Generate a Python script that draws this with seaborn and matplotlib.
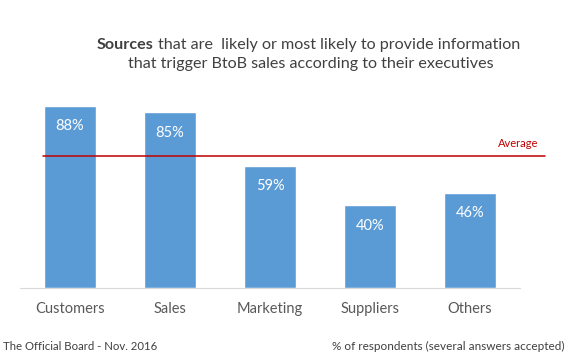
import matplotlib.pyplot as plt
import seaborn as sns
import numpy as np
import pandas as pd

categories = ["Customers", "Sales", "Marketing", "Suppliers", "Others"]
values = [88, 85, 59, 40, 46]
average = np.mean(values)

sns.set_style("white")
plt.rcParams['font.family'] = ['Lato', 'DejaVu Sans']

df = pd.DataFrame({'source': categories, 'pct': values})

W, H = 570, 359
fig = plt.figure(figsize=(W / 100, H / 100), dpi=100)
ax = fig.add_axes([20 / W, 1 - 288 / H, 500 / W, 207 / H])

sns.barplot(data=df, x='source', y='pct', color='#5B9BD5', saturation=1,
            width=0.52, ax=ax)
ax.set_ylim(0, 100)
ax.set_xlim(-0.5, 4.5)

for i, v in enumerate(values):
    ax.text(i, v - 6.5, f"{v}%", ha='center', va='top', color='white', fontsize=10.5)

# average line runs a bit past the axes on the right
ax.plot([-0.27, 4.75], [average, average], color='#C00000', lw=1.1, clip_on=False)
ax.text(4.68, average + 3.5, "Average", color='#C00000', ha='right', va='bottom',
        fontsize=8, clip_on=False)

ax.set_xlabel("")
ax.set_ylabel("")
ax.set_yticks([])
ax.tick_params(axis='x', length=0, pad=10, labelsize=10.5, labelcolor='#595959')
sns.despine(ax=ax, left=True)
ax.spines['bottom'].set_color('#D9D9D9')

t1 = fig.text(97 / W, 1 - 45 / H, "Sources", fontweight='bold', fontsize=11.6,
              color='#404040', va='center', ha='left')
fig.canvas.draw()
bb = t1.get_window_extent()
fig.text(bb.x1 / W + 4 / W, 1 - 45 / H, "that are  likely or most likely to provide information",
         fontsize=11.6, color='#404040', va='center', ha='left')
fig.text(311 / W, 1 - 64 / H, "that trigger BtoB sales according to their executives",
         fontsize=11.6, color='#404040', va='center', ha='center')

fig.text(3 / W, 1 - 346 / H, "The Official Board - Nov. 2016", fontsize=8.2,
         color='#404040', va='center', ha='left')
fig.text(565 / W, 1 - 346 / H, "% of respondents (several answers accepted)", fontsize=8.5,
         color='#404040', va='center', ha='right')

fig.savefig("out.png", dpi=100)
